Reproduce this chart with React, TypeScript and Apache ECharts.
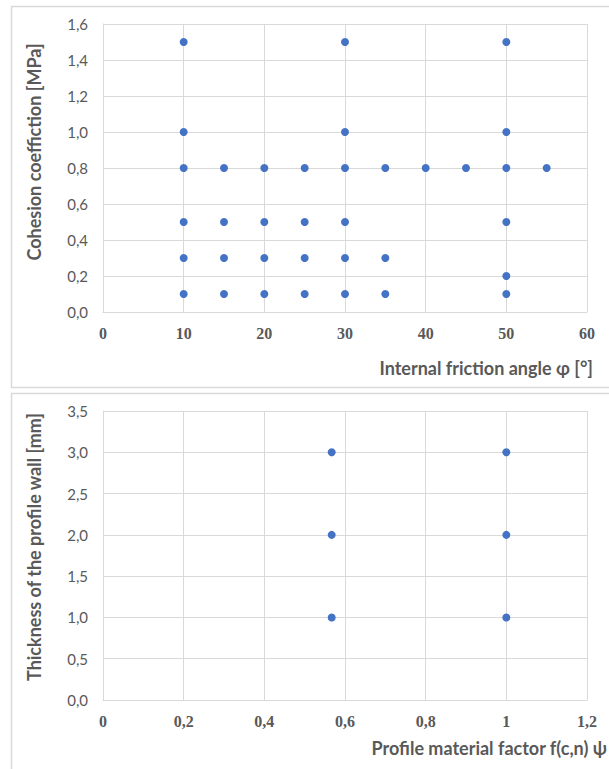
import React, { useEffect, useRef } from "react";
import * as echarts from "echarts";

// Top chart: internal friction angle (x) vs cohesion coefficient (y)
const frictionAngles = [
  10, 10, 10, 10, 10, 10,
  15, 15, 15, 15,
  20, 20, 20, 20,
  25, 25, 25, 25,
  30, 30, 30, 30, 30, 30,
  35, 35, 35,
  40,
  45,
  50, 50, 50, 50, 50, 50,
  55,
];
const cohesionValues = [
  1.5, 1.0, 0.8, 0.5, 0.3, 0.1,
  0.8, 0.5, 0.3, 0.1,
  0.8, 0.5, 0.3, 0.1,
  0.8, 0.5, 0.3, 0.1,
  1.5, 1.0, 0.8, 0.5, 0.3, 0.1,
  0.8, 0.3, 0.1,
  0.8,
  0.8,
  1.5, 1.0, 0.8, 0.5, 0.2, 0.1,
  0.8,
];

// Bottom chart: profile material factor (x) vs wall thickness (y)
const materialFactors = [0.567, 0.567, 0.567, 1, 1, 1];
const wallThickness = [3, 2, 1, 3, 2, 1];

const topXTitle = "Internal friction angle φ [°]";
const topYTitle = "Cohesion coeffiction [MPa]";
const bottomXTitle = "Profile material factor f(c,n) ψ";
const bottomYTitle = "Thickness of the profile wall [mm]";

const BLUE = "#4472C4";
const GRID = "#d9d9d9";
const TEXT = "#595959";

export default function App() {
  const ref = useRef<HTMLDivElement>(null);

  useEffect(() => {
    if (!ref.current) return;
    const chart = echarts.init(ref.current, undefined, { renderer: "svg" });

    const topData = frictionAngles.map((x, i) => [x, cohesionValues[i]]);
    const bottomData = materialFactors.map((x, i) => [x, wallThickness[i]]);

    const fmtComma = (v: number) =>
      String(Number(v.toFixed(2))).replace(".", ",");
    const fmtFixed1 = (v: number) => v.toFixed(1).replace(".", ",");

    const xLabel = {
      fontFamily: "Liberation Serif",
      fontWeight: "bold" as const,
      fontSize: 16,
      color: TEXT,
      margin: 13,
    };
    const yLabel = {
      fontFamily: "Lato",
      fontSize: 15,
      color: TEXT,
      margin: 15,
    };
    const axisCommon = {
      axisTick: { show: false },
      axisLine: { show: true, lineStyle: { color: GRID, width: 1 } },
      splitLine: { show: true, lineStyle: { color: GRID, width: 1 } },
    };

    const titleStyle = {
      fontFamily: "Lato",
      fontWeight: "bold" as const,
      fontSize: 18,
      fill: TEXT,
    };

    chart.setOption({
      animation: false,
      grid: [
        { left: 103, top: 24, width: 484, height: 288 },
        { left: 103, top: 411, width: 484, height: 289 },
      ],
      xAxis: [
        {
          gridIndex: 0,
          type: "value",
          min: 0,
          max: 60,
          interval: 10,
          ...axisCommon,
          axisLabel: { ...xLabel },
        },
        {
          gridIndex: 1,
          type: "value",
          min: 0,
          max: 1.2,
          interval: 0.2,
          ...axisCommon,
          axisLabel: { ...xLabel, formatter: fmtComma },
        },
      ],
      yAxis: [
        {
          gridIndex: 0,
          type: "value",
          min: 0,
          max: 1.6,
          interval: 0.2,
          ...axisCommon,
          axisLabel: { ...yLabel, formatter: fmtFixed1 },
        },
        {
          gridIndex: 1,
          type: "value",
          min: 0,
          max: 3.5,
          interval: 0.5,
          ...axisCommon,
          axisLabel: { ...yLabel, formatter: fmtFixed1 },
        },
      ],
      series: [
        {
          type: "scatter",
          xAxisIndex: 0,
          yAxisIndex: 0,
          data: topData,
          symbol: "circle",
          symbolSize: 8,
          itemStyle: { color: BLUE, opacity: 1 },
        },
        {
          type: "scatter",
          xAxisIndex: 1,
          yAxisIndex: 1,
          data: bottomData,
          symbol: "circle",
          symbolSize: 8,
          itemStyle: { color: BLUE, opacity: 1 },
        },
      ],
      graphic: [
        {
          type: "rect",
          shape: { x: 11.5, y: 6.5, width: 620, height: 381 },
          style: { fill: "none", stroke: GRID, lineWidth: 1.5 },
          silent: true,
          z: -10,
        },
        {
          type: "rect",
          shape: { x: 11.5, y: 393.5, width: 620, height: 400 },
          style: { fill: "none", stroke: GRID, lineWidth: 1.5 },
          silent: true,
          z: -10,
        },
        {
          type: "text",
          x: 593,
          y: 368,
          style: {
            ...titleStyle,
            text: topXTitle,
            align: "right",
            verticalAlign: "middle",
          },
        },
        {
          type: "text",
          x: 607,
          y: 748,
          style: {
            ...titleStyle,
            text: bottomXTitle,
            align: "right",
            verticalAlign: "middle",
          },
        },
        {
          type: "text",
          x: 34,
          y: 152,
          rotation: Math.PI / 2,
          style: {
            ...titleStyle,
            text: topYTitle,
            align: "center",
            verticalAlign: "middle",
          },
        },
        {
          type: "text",
          x: 34,
          y: 547,
          rotation: Math.PI / 2,
          style: {
            ...titleStyle,
            text: bottomYTitle,
            align: "center",
            verticalAlign: "middle",
          },
        },
      ],
    });

    return () => chart.dispose();
  }, []);

  return (
    <div
      ref={ref}
      style={{ position: "absolute", left: 0, top: 0, width: 609, height: 769 }}
    />
  );
}
